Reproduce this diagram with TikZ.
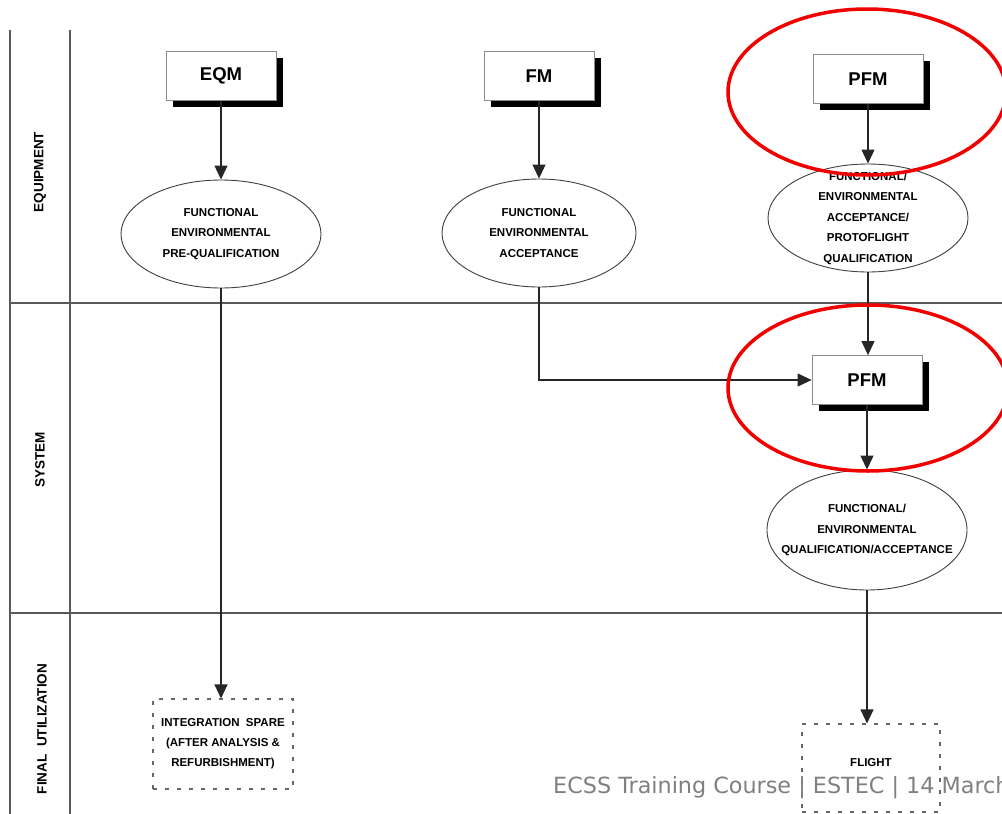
\documentclass[tikz,border=0pt]{standalone}
\usepackage{fontspec}
\setmainfont{Liberation Sans}
\newfontfamily\footfont{DejaVu Sans}
\usetikzlibrary{shapes.geometric,arrows.meta,shadows}

\begin{document}
\begin{tikzpicture}[x=1pt,y=-1pt,
    frameline/.style={draw=black!65,line width=1.3pt},
    model/.style={draw=black!45,line width=0.8pt,fill=white,minimum width=110pt,minimum height=49pt,
      font=\fontsize{18.5}{18.5}\selectfont\bfseries,
      drop shadow={shadow xshift=7pt,shadow yshift=-6pt,fill=black,opacity=1}},
    testcase/.style={ellipse,draw=black!75,line width=0.9pt,minimum width=200pt,minimum height=108pt,
      inner sep=0pt,align=center,font=\fontsize{11.5}{20.5}\selectfont\bfseries},
    usebox/.style={draw=black!60,line width=1.1pt,dash pattern=on 4pt off 8pt,minimum width=140pt,
      minimum height=90pt,align=center,font=\fontsize{11.5}{20}\selectfont\bfseries},
    flow/.style={draw=black!85,line width=1.1pt,-{Triangle[length=14pt,width=13pt]}},
    redring/.style={draw=red!95!black,line width=3.5pt},
    sidelabel/.style={rotate=90,font=\fontsize{13.5}{13.5}\selectfont\bfseries}]
  \useasboundingbox[fill=white] (0,0) rectangle (1002,814);
  % frame
  \draw[frameline] (10,30) -- (10,814);
  \draw[frameline] (70,30) -- (70,814);
  \draw[frameline] (10,303) -- (1002,303);
  \draw[frameline] (10,613) -- (1002,613);
  \node[sidelabel] (equip) at (40,172) {EQUIPMENT};
  \node[sidelabel] (syst) at (40,460) {SYSTEM};
  \node[sidelabel] (final) at (42,729) {FINAL\ \ UTILIZATION};
  % models
  \node[model] (eqm) at (221,76) {EQM};
  \node[model] (fm) at (539,76) {FM};
  \node[model] (pfmeq) at (868,79) {PFM};
  \node[model] (pfmsys) at (867,380) {PFM};
  % tests
  \node[testcase] (qualeqm) at (221,234) {FUNCTIONAL\\ENVIRONMENTAL\\PRE-QUALIFICATION};
  \node[testcase,minimum width=194pt] (accfm) at (539,233) {FUNCTIONAL\\ENVIRONMENTAL\\ACCEPTANCE};
  \node[testcase,inner ysep=-16pt] (protopfm) at (868,218) {FUNCTIONAL/\\ENVIRONMENTAL\\ACCEPTANCE/\\PROTOFLIGHT\\QUALIFICATION};
  \node[testcase,minimum height=120pt,inner xsep=-15pt] (qualsys) at (867,530) {FUNCTIONAL/\\ENVIRONMENTAL\\QUALIFICATION/ACCEPTANCE};
  % final use
  \node[usebox] (spare) at (223,744) {INTEGRATION\ \ SPARE\\(AFTER\ ANALYSIS\ \&\\REFURBISHMENT)};
  \node[usebox,minimum width=138pt,minimum height=88pt,
    label={[font=\fontsize{11.5}{11.5}\selectfont\bfseries,yshift=5pt]center:FLIGHT}] (flight) at (871,768) {};
  \coordinate (bend) at (539,380);
  % flow
  \draw[flow] (eqm) -- (qualeqm);
  \draw[flow] (fm) -- (accfm);
  \draw[flow] (pfmeq.south -| protopfm.north) -- (protopfm.north);
  \draw[flow] (protopfm.south) -- (pfmsys.north -| protopfm.south);
  \draw[flow] (accfm.south) -- (bend) -- (pfmsys.west);
  \draw[flow] (pfmsys.south) -- (qualsys.north);
  \draw[flow] (qualsys.south) -- (flight.north -| qualsys.south);
  \draw[flow] (qualeqm.south) -- (spare.north -| qualeqm.south);
  % highlights
  \draw[redring] (867,92) circle [x radius=139pt, y radius=83pt];
  \draw[redring] (868,388) circle [x radius=140pt, y radius=83pt];
  \node[anchor=base west,inner sep=0pt,text=black!50,font=\footfont\fontsize{22.3}{22.3}\selectfont] (foot) at (553,793)
    {ECSS Training Course | ESTEC | 14 March};
\end{tikzpicture}
\end{document}
